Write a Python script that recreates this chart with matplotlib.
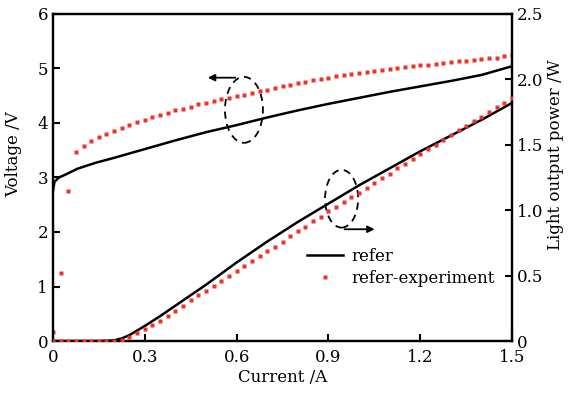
import numpy as np
import matplotlib.pyplot as plt
from matplotlib.patches import Ellipse

plt.rcParams['font.family'] = ['DejaVu Serif']
plt.rcParams['font.size'] = 12

# simulated ("refer") curves
refer_i_v = [0, 0.005, 0.02, 0.04, 0.08, 0.14, 0.2, 0.3, 0.4, 0.5, 0.6, 0.7,
             0.8, 0.9, 1.0, 1.1, 1.2, 1.3, 1.4, 1.5]
refer_v = [2.75, 2.92, 3.00, 3.05, 3.16, 3.27, 3.36, 3.52, 3.68, 3.83, 3.96, 4.10,
           4.23, 4.35, 4.46, 4.57, 4.67, 4.77, 4.88, 5.04]

refer_i_p = [0, 0.15, 0.2, 0.225, 0.25, 0.275, 0.3, 0.35, 0.4, 0.5, 0.6, 0.7,
             0.8, 0.9, 1.0, 1.1, 1.2, 1.3, 1.4, 1.5]
refer_p = [0, 0, 0.005, 0.02, 0.045, 0.08, 0.115, 0.19, 0.27, 0.43, 0.60, 0.76,
           0.91, 1.05, 1.19, 1.32, 1.45, 1.57, 1.69, 1.82]

# experiment points (every 0.025 A)
exp_i = [0.0, 0.025, 0.05, 0.075, 0.1, 0.125, 0.15, 0.175, 0.2, 0.225,
         0.25, 0.275, 0.3, 0.325, 0.35, 0.375, 0.4, 0.425, 0.45, 0.475,
         0.5, 0.525, 0.55, 0.575, 0.6, 0.625, 0.65, 0.675, 0.7, 0.725,
         0.75, 0.775, 0.8, 0.825, 0.85, 0.875, 0.9, 0.925, 0.95, 0.975,
         1.0, 1.025, 1.05, 1.075, 1.1, 1.125, 1.15, 1.175, 1.2, 1.225,
         1.25, 1.275, 1.3, 1.325, 1.35, 1.375, 1.4, 1.425, 1.45, 1.475, 1.5]
exp_v = [0.17, 1.25, 2.76, 3.47, 3.58, 3.67, 3.74, 3.80, 3.86, 3.91,
         3.96, 4.01, 4.06, 4.10, 4.14, 4.18, 4.23, 4.26, 4.30, 4.35,
         4.37, 4.40, 4.43, 4.46, 4.49, 4.52, 4.55, 4.58, 4.61, 4.64,
         4.67, 4.70, 4.73, 4.75, 4.78, 4.81, 4.83, 4.86, 4.88, 4.90,
         4.92, 4.93, 4.95, 4.97, 4.99, 5.01, 5.03, 5.05, 5.06, 5.07,
         5.08, 5.10, 5.11, 5.13, 5.14, 5.16, 5.17, 5.19, 5.20, 5.22, 5.24]
exp_p = [0, 0, 0, 0, 0, 0, 0, 0, 0, 0.005,
         0.03, 0.06, 0.09, 0.12, 0.155, 0.19, 0.23, 0.27, 0.31, 0.35,
         0.385, 0.42, 0.46, 0.50, 0.535, 0.57, 0.61, 0.65, 0.685, 0.72,
         0.76, 0.80, 0.84, 0.875, 0.915, 0.95, 0.99, 1.025, 1.06, 1.10,
         1.135, 1.17, 1.21, 1.245, 1.28, 1.32, 1.355, 1.39, 1.43, 1.465,
         1.50, 1.54, 1.575, 1.61, 1.645, 1.68, 1.715, 1.75, 1.785, 1.82, 1.855]

fig = plt.figure(figsize=(5.69, 3.97), dpi=100)
ax1 = fig.add_axes([0.093, 0.141, 0.807, 0.824])
ax2 = ax1.twinx()

red = '#f0302a'
l1, = ax1.plot(refer_i_v, refer_v, color='black', lw=1.8, label='refer')
m1, = ax1.plot(exp_i, exp_v, ls='none', marker='s', ms=3.2, color=red,
               mec='none', label='refer-experiment')
ax2.plot(refer_i_p, refer_p, color='black', lw=1.8, zorder=2)
ax2.plot(exp_i, exp_p, ls='none', marker='s', ms=3.2, color=red, mec='none', zorder=3)

ax1.set_xlim(0, 1.5)
ax1.set_ylim(0, 6)
ax2.set_ylim(0, 2.5)
ax1.set_xticks([0, 0.3, 0.6, 0.9, 1.2, 1.5])
ax1.set_xticklabels(['0', '0.3', '0.6', '0.9', '1.2', '1.5'])
ax1.set_yticks(range(7))
ax2.set_yticks([0, 0.5, 1.0, 1.5, 2.0, 2.5])
ax2.set_yticklabels(['0', '0.5', '1.0', '1.5', '2.0', '2.5'])

for ax in (ax1, ax2):
    ax.tick_params(direction='in', length=5, width=1.5)
    for s in ax.spines.values():
        s.set_linewidth(1.6)
ax1.tick_params(axis='x', pad=6)

ax1.set_xlabel('Current /A', labelpad=2)
ax1.set_ylabel('Voltage /V')
ax2.set_ylabel('Light output power /W')
ax1.yaxis.set_label_coords(-0.068, 0.57)
ax2.yaxis.set_label_coords(1.075, 0.57)

# dashed ellipses with arrows pointing at the relevant axis
ax1.add_patch(Ellipse((0.624, 4.24), 0.124, 1.21, fill=False, ls=(0, (4, 3)),
                      lw=1.3, color='black'))
ax1.annotate('', xy=(0.497, 4.83), xytext=(0.605, 4.83),
             arrowprops=dict(arrowstyle='-|>', color='black', lw=1.3, mutation_scale=10))
ax1.add_patch(Ellipse((0.943, 2.61), 0.108, 1.06, fill=False, ls=(0, (4, 3)),
                      lw=1.3, color='black'))
ax1.annotate('', xy=(1.06, 2.05), xytext=(0.944, 2.05),
             arrowprops=dict(arrowstyle='-|>', color='black', lw=1.3, mutation_scale=10))

ax2.legend([l1, m1], ['refer', 'refer-experiment'], loc='lower left',
           bbox_to_anchor=(0.52, 0.12), frameon=False, handlelength=2.2,
           handletextpad=0.5, labelspacing=0.3, markerscale=1.0)

fig.savefig('out.png', dpi=100)
